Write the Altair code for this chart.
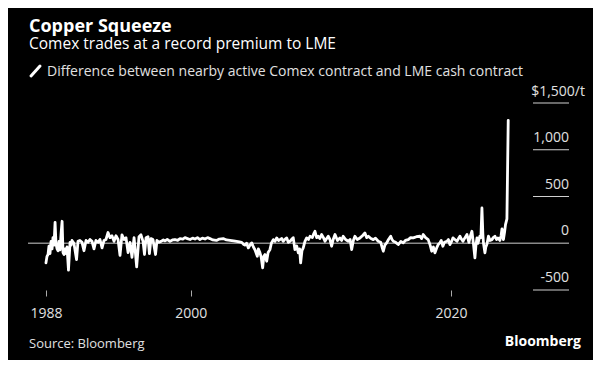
import altair as alt
import pandas as pd

# ---- data ----
years = [
    1988.88, 1988.96, 1989.04, 1989.11, 1989.19, 1989.27, 1989.35, 1989.42, 1989.50, 1989.58,
    1989.65, 1989.73, 1989.81, 1989.88, 1989.96, 1990.04, 1990.12, 1990.19, 1990.27, 1990.35,
    1990.42, 1990.50, 1990.61, 1990.73, 1990.81, 1990.88, 1991.03, 1991.23, 1991.34, 1991.49,
    1991.65, 1991.80, 1991.96, 1992.11, 1992.26, 1992.42, 1992.57, 1992.72, 1992.88, 1993.03,
    1993.19, 1993.34, 1993.49, 1993.65, 1993.80, 1993.95, 1994.11, 1994.26, 1994.42, 1994.57,
    1994.72, 1994.88, 1995.03, 1995.19, 1995.34, 1995.49, 1995.65, 1995.85, 1996.03, 1996.18,
    1996.34, 1996.45, 1996.57, 1996.72, 1996.83, 1996.95, 1997.10, 1997.30, 1997.41, 1997.56,
    1997.72, 1997.90, 1998.03, 1998.20, 1998.41, 1998.60, 1998.79, 1999.00, 1999.18, 1999.40,
    1999.56, 1999.75, 1999.95, 2000.15, 2000.33, 2000.52, 2000.71, 2000.90, 2001.10, 2001.30,
    2001.48, 2001.70, 2001.98, 2002.20, 2002.50, 2002.75, 2003.02, 2003.30, 2003.53, 2003.75,
    2003.92, 2004.05, 2004.17, 2004.30, 2004.43, 2004.56, 2004.69, 2004.82, 2004.94, 2005.12,
    2005.20, 2005.32, 2005.42, 2005.53, 2005.62, 2005.71, 2005.84, 2005.95, 2006.09, 2006.20,
    2006.35, 2006.48, 2006.61, 2006.75, 2006.86, 2007.00, 2007.11, 2007.25, 2007.38, 2007.50,
    2007.63, 2007.75, 2007.88, 2008.01, 2008.15, 2008.27, 2008.37, 2008.45, 2008.55, 2008.65,
    2008.78, 2008.91, 2009.05, 2009.17, 2009.35, 2009.45, 2009.55, 2009.68, 2009.80, 2009.92,
    2010.06, 2010.20, 2010.32, 2010.45, 2010.57, 2010.70, 2010.83, 2010.95, 2011.09, 2011.28,
    2011.47, 2011.60, 2011.72, 2011.90, 2012.11, 2012.25, 2012.37, 2012.50, 2012.62, 2012.80,
    2013.01, 2013.20, 2013.39, 2013.52, 2013.65, 2013.85, 2014.03, 2014.20, 2014.41, 2014.60,
    2014.70, 2014.80, 2014.92, 2015.06, 2015.20, 2015.37, 2015.47, 2015.57, 2015.75, 2015.95,
    2016.15, 2016.33, 2016.50, 2016.72, 2016.90, 2017.10, 2017.35, 2017.62, 2017.75, 2017.87,
    2018.05, 2018.25, 2018.40, 2018.52, 2018.65, 2018.77, 2018.90, 2019.02, 2019.15, 2019.25,
    2019.38, 2019.50, 2019.69, 2019.80, 2019.92, 2020.05, 2020.15, 2020.30, 2020.46, 2020.58,
    2020.69, 2020.80, 2020.92, 2021.08, 2021.23, 2021.38, 2021.50, 2021.61, 2021.73, 2021.84,
    2021.92, 2022.00, 2022.07, 2022.15, 2022.22, 2022.30, 2022.38, 2022.45, 2022.50, 2022.61,
    2022.68, 2022.76, 2022.88, 2023.00, 2023.15, 2023.25, 2023.38, 2023.50, 2023.61, 2023.76,
    2023.85, 2023.92, 2024.03, 2024.12, 2024.19, 2024.30, 2024.40,
]
values = [
    -210, -140, -120, -30, -110, 20, -60, 60, -20, 224,
    0, -60, -80, 20, -70, 100, 235, -100, -120, -60,
    -110, -40, -288, 10, -20, 30, 0, -175, 20, 30,
    10, -80, 30, 10, 40, 20, -60, 30, 10, 40,
    -50, 30, 40, 115, 60, 80, 20, 80, 40, -130,
    90, 40, 60, -100, 10, -150, 60, -252, 70, 90,
    20, -120, 60, 70, -110, 50, 40, -120, 30, 10,
    20, 35, 25, 40, 20, 35, 40, 30, 50, 45,
    60, 50, 40, 55, 45, 60, 40, 55, 45, 60,
    50, 35, 30, 45, 50, 35, 30, 25, 20, 15,
    10, -10, -20, 0, -50, -20, 4, -40, -70, -139,
    -60, -100, -150, -263, -140, -121, -192, -100, -68, 0,
    39, 20, 57, 30, 39, 50, 21, 45, 57, 10,
    20, 40, 60, -68, -30, -103, -60, -210, -80, -50,
    20, 57, 40, 75, 60, 100, 128, 60, 75, 50,
    93, 60, 21, 50, 75, 40, -32, 40, 93, 30,
    57, 30, 75, 40, 21, 40, -68, 30, 75, 40,
    57, 80, 110, 60, 75, 50, 39, 55, 21, 10,
    -40, -85, -20, 4, 40, 75, 40, 21, 10, -14,
    20, 4, 30, 39, 60, 57, 70, 75, 50, 93,
    60, 39, -20, -85, -40, -103, -50, -14, 4, 30,
    -32, 10, 21, 40, -14, 20, 57, 40, 21, 50,
    75, 45, 21, 60, 93, 10, 80, 128, -10, -157,
    -20, 57, 0, 40, 75, 60, 377, 100, 0, -103,
    -40, -14, 75, 30, 39, 60, 75, 40, 57, 30,
    80, 153, 40, 120, 200, 260, 1314,
]

y_tick_values = [-500, 0, 500, 1000]
y_tick_labels = ["-500", "0", "500", "1,000"]
y_unit_value = [1500]
y_unit_label = ["$1,500/t"]
grid_values = [-500, 500, 1000, 1500]
x_tick_values = [1988.88, 2000, 2020]

title_text = "Copper Squeeze"
subtitle_text = "Comex trades at a record premium to LME"
legend_text = "Difference between nearby active Comex contract and LME cash contract"
source_text = "Source: Bloomberg"
brand_text = "Bloomberg"

FONT = "Open Sans"
W, H = 541, 187
yscale = alt.Scale(domain=[-500, 1500], nice=False, zero=False)
xscale = alt.Scale(domain=[1987.5, 2029.07], nice=False, zero=False)

series = pd.DataFrame({"year": years, "value": values})
ticks_df = pd.DataFrame({"v": y_tick_values, "label": y_tick_labels})
unit_df = pd.DataFrame({"v": y_unit_value, "label": y_unit_label})
grid_df = pd.DataFrame({"v": grid_values})
zero_df = pd.DataFrame({"v": [0]})


def one_text(txt):
    return alt.Chart(pd.DataFrame({"t": [txt]}))


zero_line = alt.Chart(zero_df).mark_rule(color="#8a8a8a", strokeWidth=1.5).encode(
    y=alt.Y("v:Q", scale=yscale, axis=None)
)

grid = alt.Chart(grid_df).mark_rule(color="#d0d0d0", strokeWidth=1).encode(
    y=alt.Y("v:Q", scale=yscale, axis=None),
    x=alt.value(505),
    x2=alt.value(W),
)

tick_labels = alt.Chart(ticks_df).mark_text(
    align="right", baseline="alphabetic", dy=-8, fontSize=14, color="#e0e0e0", font=FONT
).encode(
    y=alt.Y("v:Q", scale=yscale, axis=None),
    x=alt.value(W),
    text="label:N",
)

unit_label = alt.Chart(unit_df).mark_text(
    align="right", baseline="alphabetic", dy=-7, fontSize=14, color="#e0e0e0", font=FONT
).encode(
    y=alt.Y("v:Q", scale=yscale, axis=None),
    x=alt.value(557),
    text="label:N",
)

line = alt.Chart(series).mark_line(
    color="white", strokeWidth=2.8, strokeJoin="round", strokeCap="round"
).encode(
    x=alt.X(
        "year:Q",
        scale=xscale,
        axis=alt.Axis(
            values=x_tick_values,
            labelExpr="'' + floor(datum.value)",
            title=None,
            grid=False,
            domain=False,
            ticks=True,
            tickColor="#aaaaaa",
            tickSize=6,
            labelColor="#e0e0e0",
            labelFontSize=14,
            labelFont=FONT,
            labelPadding=10,
        ),
    ),
    y=alt.Y("value:Q", scale=yscale, axis=None),
)

title = one_text(title_text).mark_text(
    align="left", baseline="alphabetic", fontSize=18, fontWeight="bold", color="white", font=FONT
).encode(x=alt.value(1), y=alt.value(-71), text="t:N")

subtitle = one_text(subtitle_text).mark_text(
    align="left", baseline="alphabetic", fontSize=15.5, color="white", font=FONT
).encode(x=alt.value(1), y=alt.value(-54), text="t:N")

legend_icon = one_text("").mark_rule(color="white", strokeWidth=3, strokeCap="round").encode(
    x=alt.value(3), x2=alt.value(12), y=alt.value(-27), y2=alt.value(-37)
)

legend_label = one_text(legend_text).mark_text(
    align="left", baseline="alphabetic", fontSize=14, color="#e0e0e0", font=FONT
).encode(x=alt.value(19), y=alt.value(-27), text="t:N")

source = one_text(source_text).mark_text(
    align="left", baseline="alphabetic", fontSize=13, color="#e0e0e0", font=FONT
).encode(x=alt.value(1), y=alt.value(245), text="t:N")

brand = one_text(brand_text).mark_text(
    align="right", baseline="alphabetic", fontSize=14, fontWeight="bold", color="white", font=FONT
).encode(x=alt.value(553), y=alt.value(243), text="t:N")

chart = alt.layer(
    zero_line, grid, tick_labels, unit_label, line,
    title, subtitle, legend_icon, legend_label, source, brand,
).properties(
    width=W,
    height=H,
    autosize=alt.AutoSizeParams(type="none"),
    padding={"left": 20, "top": 95, "right": 24, "bottom": 70},
    background="black",
).configure(font=FONT).configure_view(stroke=None, strokeWidth=0)

chart.save("out.html", embed_options={"renderer": "svg", "actions": False})
